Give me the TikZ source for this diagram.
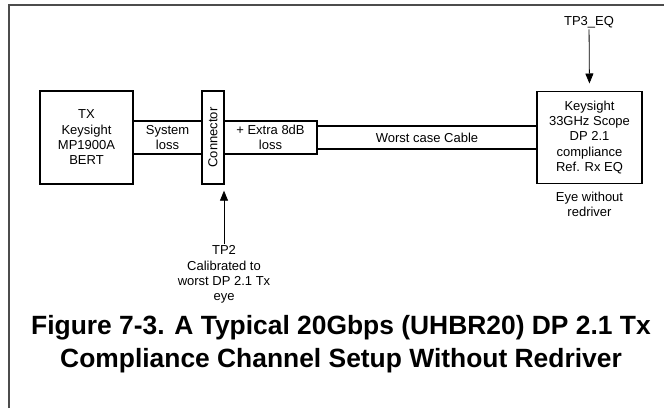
\documentclass[tikz,border=0pt]{standalone}
\usepackage{fontspec}
\setmainfont{Liberation Sans}
\usetikzlibrary{positioning,arrows.meta}

\begin{document}
\begin{tikzpicture}[x=0.75pt,y=-0.75pt,
  blk/.style={draw,line width=1.2pt,inner sep=0pt,outer sep=0pt,align=center,
    font=\fontsize{9.75}{11.5}\selectfont},
  lbl/.style={align=center,inner sep=1pt,font=\fontsize{9.75}{11.5}\selectfont},
  probe/.style={-{Triangle[width=6pt,length=7.5pt]},line width=0.6pt}]
  \useasboundingbox (0,0) rectangle (664,408);
  % frame
  \draw[black!70,line width=0.8pt] (9,408) -- (9,5) -- (664,5);
  % channel
  \node[blk,minimum width=69.75pt,minimum height=69.75pt] (tx) at (86.5,137.5) {TX\\Keysight\\MP1900A\\BERT};
  \node[blk,minimum width=51.75pt,minimum height=24.75pt,right=0pt of tx] (sysloss) {System\\loss};
  \node[blk,minimum width=16.5pt,minimum height=69.75pt,right=0pt of sysloss] (conn) {};
  \node[rotate=90,font=\fontsize{9.75}{11.5}\selectfont] (conntext) at (conn) {Connector};
  \node[blk,minimum width=69.75pt,minimum height=24.75pt,right=0pt of conn] (extra) {+ Extra 8dB\\loss};
  \node[blk,minimum width=165pt,minimum height=17.25pt,right=0pt of extra] (cable) {Worst case Cable};
  \node[blk,minimum width=78.75pt,minimum height=69pt,right=0pt of cable] (scope) {Keysight\\33GHz Scope\\DP 2.1\\compliance\\Ref. Rx EQ};
  % probes
  \node[lbl] (tp3) at (589,22) {TP3\_EQ};
  \draw[probe,shorten >=6pt] (tp3) -- (scope.north);
  \node[lbl,below=5pt of scope] (eye) {Eye without\\redriver};
  \node[lbl,anchor=north] (tp2) at (224,244) {TP2\\Calibrated to\\worst DP 2.1 Tx\\eye};
  \draw[probe,shorten >=5pt] (tp2.north) -- (conn.south east);
  % caption
  \node[align=center,font=\fontsize{19.8}{25}\selectfont\bfseries] (caption) at (341,344)
    {Figure 7-3. A Typical 20Gbps (UHBR20) DP 2.1 Tx\\Compliance Channel Setup Without Redriver};
\end{tikzpicture}
\end{document}
